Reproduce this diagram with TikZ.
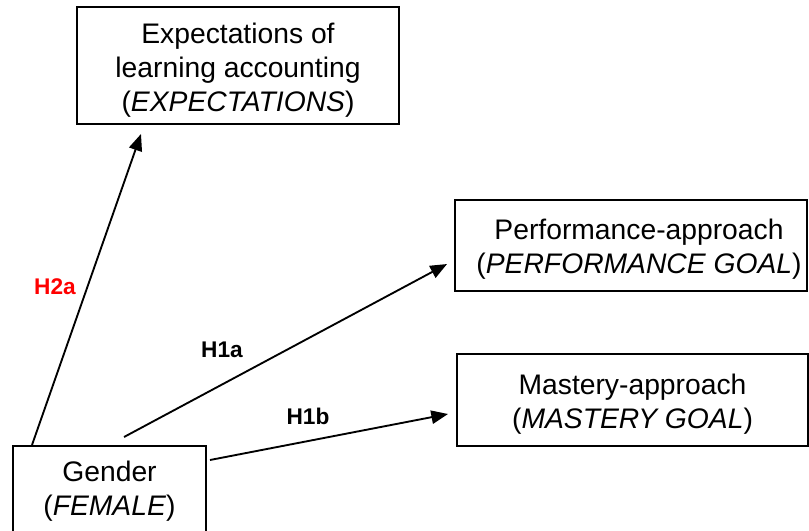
\documentclass[tikz,border=0pt]{standalone}
\usepackage{fontspec}
\setmainfont{Liberation Sans}
\usetikzlibrary{arrows.meta}
\tikzset{
  box/.style={draw=black, line width=1.5pt, align=center, inner sep=0pt,
    font=\fontsize{21.2}{25.5}\selectfont},
  arr/.style={line width=1.4pt, -{Triangle[length=12.5pt,width=10pt]}},
  hyp/.style={font=\fontsize{17}{20}\selectfont\bfseries, inner sep=0pt},
}
\begin{document}
\begin{tikzpicture}[x=0.75pt,y=-0.75pt]
\useasboundingbox (0,0) rectangle (809,531);
\clip (0,0) rectangle (809,531);
\node[box, minimum width=241.5pt, minimum height=87.75pt] (expect) at (238,65.5)
  {\rule{0pt}{23pt}Expectations of\\learning accounting\\(\textit{EXPECTATIONS})};
\node[box, minimum width=264pt, minimum height=68.25pt] (perf) at (631,245.5)
  {\rule{0pt}{21.5pt}\hspace*{12pt}Performance-approach\\\hspace*{12pt}(\textit{PERFORMANCE GOAL})};
\node[box, minimum width=263.25pt, minimum height=69pt] (mast) at (632.5,400)
  {\rule{0pt}{21.5pt}Mastery-approach\\(\textit{MASTERY GOAL})};
\node[box, minimum width=144.75pt, minimum height=67.5pt] (gender) at (109.5,491)
  {Gender\\(\textit{FEMALE})};
\draw[arr] ([xshift=15pt]gender.north west) -- ([xshift=48.75pt,yshift=-6.75pt]expect.south west);
\draw[arr] ([xshift=10.9pt,yshift=6pt]gender.north) -- ([xshift=-5.25pt,yshift=-13.9pt]perf.west);
\draw[arr] ([xshift=2.25pt,yshift=-11.25pt]gender.north east) -- ([xshift=-6pt,yshift=-10.5pt]mast.west);
\node[hyp, text=red] (h2a) at (55,287) {H2a};
\node[hyp] (h1a) at (222,350) {H1a};
\node[hyp] (h1b) at (308,416) {H1b};
\end{tikzpicture}
\end{document}
